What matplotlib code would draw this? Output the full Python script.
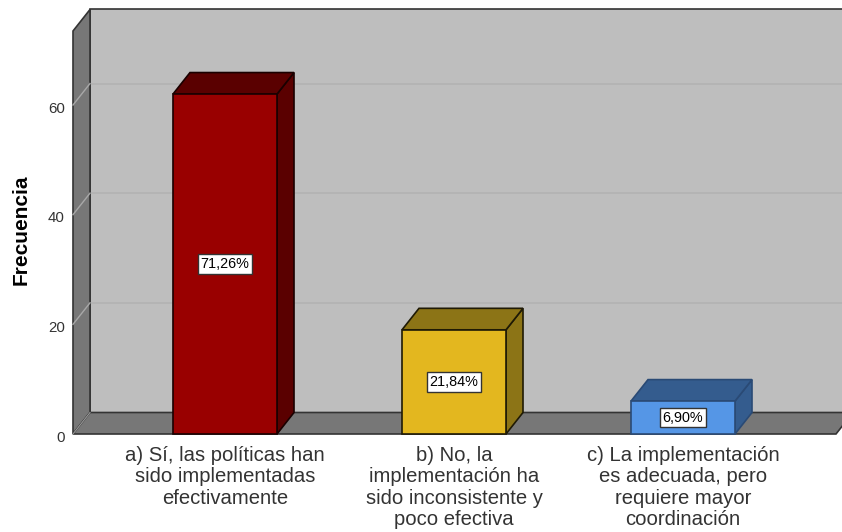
import numpy as np
from matplotlib import pyplot as plt
from matplotlib.patches import Polygon
from matplotlib.transforms import ScaledTranslation

plt.rcParams['font.family'] = ['Liberation Sans', 'DejaVu Sans']

categories = ["a) Sí, las políticas han\nsido implementadas\nefectivamente",
              "b) No, la\nimplementación ha\nsido inconsistente y\npoco efectiva",
              "c) La implementación\nes adecuada, pero\nrequiere mayor\ncoordinación"]
counts = [62, 19, 6]
percent_labels = ["71,26%", "21,84%", "6,90%"]
yticks = [0, 20, 40, 60]

front_colors = ["#990000", "#E3B71F", "#5596E6"]
side_colors = ["#5A0000", "#8C7416", "#345C8E"]
edge_colors = ["#1a0000", "#1f1a05", "#2a4a75"]

W, H = 842, 532
px_x = 229.0     # pixels per category
px_y = 5.483     # pixels per count
bar_w = 104 / px_x
dx = 17 / px_x   # 3d depth
dy = 21.5 / px_y

fig = plt.figure(figsize=(W/100, H/100), dpi=100, facecolor="white")
# axes = front plane of the 3d box
left, right, bottom, top = 73, 836, 434, 31
ax = fig.add_axes([left/W, 1 - bottom/H, (right-left)/W, (bottom-top)/H])
xmin, xmax = (left-225)/px_x, (right-225)/px_x
ymax = (bottom-top)/px_y
ax.set_xlim(xmin, xmax)
ax.set_ylim(0, ymax)
ax.patch.set_alpha(0)
for s in ax.spines.values():
    s.set_visible(False)


def poly(pts, fc, ec="#333333", lw=1.2, z=1):
    ax.add_patch(Polygon(pts, closed=True, facecolor=fc, edgecolor=ec, linewidth=lw,
                         joinstyle="miter", clip_on=False, zorder=z))


# walls
poly([(xmin+dx, dy), (xmax+dx, dy), (xmax+dx, ymax+dy), (xmin+dx, ymax+dy)], "#BEBEBE", z=1)
poly([(xmin, 0), (xmin+dx, dy), (xmin+dx, ymax+dy), (xmin, ymax)], "#777777", z=2)
poly([(xmin, 0), (xmax, 0), (xmax+dx, dy), (xmin+dx, dy)], "#777777", z=2)
ax.plot([xmin, xmin+dx], [0, dy], color="#999999", lw=0.8, zorder=3, clip_on=False)

# gridlines
for t in yticks[1:]:
    ax.plot([xmin+dx, xmax+dx], [t+dy, t+dy], color="#B4B4B4", lw=1.4, zorder=1.5, clip_on=False)
    ax.plot([xmin, xmin+dx], [t, t+dy], color="#A8A8A8", lw=1.0, zorder=3, clip_on=False)

# bars
for i, v in enumerate(counts):
    x0, x1 = i - bar_w/2, i + bar_w/2
    poly([(x1, 0), (x1+dx, dy), (x1+dx, v+dy), (x1, v)], side_colors[i], edge_colors[i], z=4)
    poly([(x0, v), (x1, v), (x1+dx, v+dy), (x0+dx, v+dy)], side_colors[i], edge_colors[i], z=4)
    poly([(x0, 0), (x1, 0), (x1, v), (x0, v)], front_colors[i], edge_colors[i], z=5)
    ax.text(i, v/2, percent_labels[i], ha="center", va="center", fontsize=10.4, color="black", zorder=6,
            bbox=dict(boxstyle="square,pad=0.18", facecolor="white", edgecolor="#333333", linewidth=1.0))

ax.set_yticks(yticks)
ax.set_xticks(range(len(categories)))
ax.set_xticklabels(categories, fontsize=14.6, color="#333333", linespacing=1.17)
ax.tick_params(axis="x", length=0, pad=8.5)
ax.tick_params(axis="y", length=0, pad=6, labelsize=10.8, labelcolor="#333333")
shift = ScaledTranslation(0, -2/100, fig.dpi_scale_trans)
for lab in ax.get_yticklabels():
    lab.set_transform(lab.get_transform() + shift)
ax.set_ylabel("Frecuencia", fontsize=15, fontweight="bold", color="black")
ax.yaxis.set_label_coords(-(73-31)/(right-left), (434-230)/(bottom-top))

fig.savefig("out.png", dpi=100)
